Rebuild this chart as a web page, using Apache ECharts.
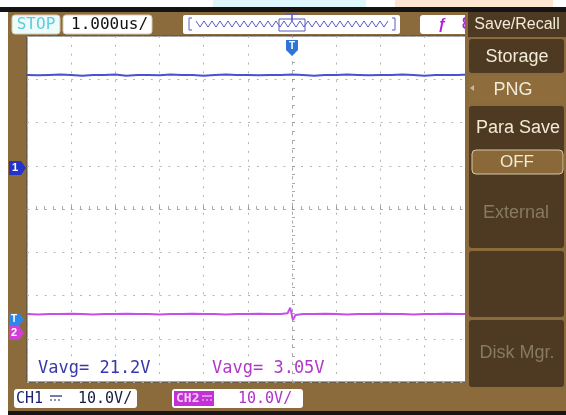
<!DOCTYPE html>
<html><head><meta charset="utf-8">
<script src="https://cdn.jsdelivr.net/npm/echarts@6/dist/echarts.min.js"></script>
<style>html,body{margin:0;padding:0;background:#fff}#c{width:566px;height:415px}</style>
</head><body><div id="c"></div>
<script>
// ---- data ----
const timeUs = [-6,-5.75,-5.5,-5.25,-5,-4.75,-4.5,-4.25,-4,-3.75,-3.5,-3.25,-3,-2.75,-2.5,-2.25,-2,-1.75,-1.5,-1.25,-1,-0.75,-0.5,-0.25,0,0.25,0.5,0.75,1,1.25,1.5,1.75,2,2.25,2.5,2.75,3,3.25,3.5,3.75,4,4.25,4.5,4.75,5,5.25,5.5,5.75,6];
const ch1Volts = [21.5,21.4,21.5,21.6,21.5,21.3,21.5,
                  21.5,21.6,21.3,21.5,21.5,21.4,21.6,
                  21.5,21.5,21.3,21.5,21.6,21.5,21.5,
                  21.4,21.5,21.5,21.6,21.5,21.3,21.5,
                  21.5,21.6,21.5,21.4,21.5,21.5,21.6,
                  21.5,21.3,21.5,21.5,21.5,21.6,21.4,
                  21.5,21.5,21.6,21.5,21.4,21.5,21.5];
const ch2Time = [-6,-5.75,-5.5,-5.25,-5,-4.75,-4.5,-4.25,-4,-3.75,-3.5,-3.25,-3,-2.75,-2.5,-2.25,-2,-1.75,-1.5,-1.25,-1,-0.75,-0.5,-0.25,-0.1,-0.04,0.02,0.08,0.25,0.5,0.75,1,1.25,1.5,1.75,2,2.25,2.5,2.75,3,3.25,3.5,3.75,4,4.25,4.5,4.75,5,5.25,5.5,5.75,6];
const ch2Volts = [4.4,4.3,4.4,4.4,4.5,4.4,4.3,4.4,4.4,4.5,4.4,4.4,4.3,4.4,4.4,4.5,4.4,4.4,4.3,4.4,4.4,4.5,4.4,4.4,
                  4.6,5.9,3.0,4.2,
                  4.4,4.4,4.5,4.4,4.3,4.4,4.4,4.5,4.4,4.4,4.3,4.4,4.4,4.5,4.4,4.4,4.3,4.4,4.4,4.5,4.4,4.4,4.3,4.4];
const voltsPerDiv = 10;
const ch1OffsetDiv = 0.95;
const ch2OffsetDiv = -2.87;
const labels = {
  status: 'STOP', timebase: '1.000us/',
  ch1Avg: 'Vavg= 21.2V', ch2Avg: 'Vavg= 3.05V',
  ch1Scale: '10.0V/', ch2Scale: '10.0V/',
  menu: ['Save/Recall','Storage','PNG','Para Save','OFF','External','Disk Mgr.']
};

// ---- chart ----
const chart = echarts.init(document.getElementById('c'), null, {renderer:'canvas'});
const MONO = '"DejaVu Sans Mono", monospace';
const SANS = '"Liberation Sans", Arial, sans-serif';
const BROWN = '#8B6A3B', DARK = '#4E3A22', CREAM = '#F2EAD8';
const dot = [2, 6.84];

function zig(){
  const pts=[]; let up=true;
  for(let x=196;x<=390;x+=4){pts.push([x, up?21:27]); up=!up;}
  return pts;
}
const g = [];
// edges
g.push({type:'rect',shape:{x:0,y:0,width:566,height:7},style:{fill:'#fff'},z:100});
g.push({type:'rect',shape:{x:213,y:0,width:153,height:7},style:{fill:'#DDF7FC'},z:100});
g.push({type:'rect',shape:{x:395,y:0,width:158,height:7},style:{fill:'#FCE6D2'},z:100});
g.push({type:'rect',shape:{x:0,y:7,width:566,height:5},style:{fill:'#141414'},z:100});
g.push({type:'rect',shape:{x:0,y:12,width:8,height:403},style:{fill:'#fff'},z:100});
g.push({type:'rect',shape:{x:8,y:411,width:558,height:4},style:{fill:'#161616'},z:100});
// top bar
g.push({type:'rect',shape:{x:12,y:15,width:48,height:19,r:3},style:{fill:'#EEFBFB',stroke:'#D8CCB0'},z:100});
g.push({type:'text',x:36,y:25,style:{text:labels.status,font:'16px '+MONO,fill:'#5CCCDC',align:'center',verticalAlign:'middle'},z:101});
g.push({type:'rect',shape:{x:63,y:15,width:89,height:19,r:3},style:{fill:'#fff',stroke:'#D8CCB0'},z:100});
g.push({type:'text',x:71,y:25,style:{text:labels.timebase,font:'16px '+MONO,fill:'#111',verticalAlign:'middle'},z:101});
g.push({type:'rect',shape:{x:183,y:15,width:217,height:19,r:2},style:{fill:'#fff'},z:100});
g.push({type:'polyline',shape:{points:zig()},style:{stroke:'#5A5AC0',lineWidth:1,fill:null},z:101});
g.push({type:'polyline',shape:{points:[[192,18],[189,18],[189,30],[192,30]]},style:{stroke:'#5A5AC0',lineWidth:1,fill:null},z:101});
g.push({type:'polyline',shape:{points:[[392,18],[395,18],[395,30],[392,30]]},style:{stroke:'#5A5AC0',lineWidth:1,fill:null},z:101});
g.push({type:'rect',shape:{x:279,y:19,width:26,height:12},style:{stroke:'#5A5AC0',fill:null,lineWidth:1},z:101});
g.push({type:'polyline',shape:{points:[[286,14],[298,14]]},style:{stroke:'#5A5AC0',lineWidth:1.5},z:101});
g.push({type:'polyline',shape:{points:[[292,14],[292,21]]},style:{stroke:'#5A5AC0',lineWidth:1.5},z:101});
g.push({type:'rect',shape:{x:420,y:15,width:50,height:19,r:3},style:{fill:'#fff'},z:100});
g.push({type:'text',x:442,y:25,style:{text:'ƒ',font:'italic bold 15px '+SANS,fill:'#B020D8',align:'center',verticalAlign:'middle'},z:101});
g.push({type:'text',x:466,y:25,style:{text:'8',font:'bold 15px '+MONO,fill:'#B020D8',align:'center',verticalAlign:'middle'},z:101});
// trigger marker on top
g.push({type:'polygon',shape:{points:[[286,40],[298,40],[298,50],[292,56],[286,50]]},style:{fill:'#2F74D6'},z:101});
g.push({type:'text',x:292,y:46,style:{text:'T',font:'bold 10px '+SANS,fill:'#fff',align:'center',verticalAlign:'middle'},z:102});
// left channel markers
g.push({type:'polygon',shape:{points:[[9,161],[21,161],[26,168],[21,175],[9,175]]},style:{fill:'#2434C8'},z:101});
g.push({type:'text',x:15,y:168,style:{text:'1',font:'bold 11px '+SANS,fill:'#fff',align:'center',verticalAlign:'middle'},z:102});
g.push({type:'polygon',shape:{points:[[9,313],[19,313],[24,319],[19,326],[9,326]]},style:{fill:'#2E86E8'},z:101});
g.push({type:'text',x:14,y:319.5,style:{text:'T',font:'bold 10px '+SANS,fill:'#fff',align:'center',verticalAlign:'middle'},z:102});
g.push({type:'polygon',shape:{points:[[9,326],[19,326],[24,333],[19,340],[9,340]]},style:{fill:'#D040D8'},z:101});
g.push({type:'text',x:14,y:333,style:{text:'2',font:'bold 11px '+SANS,fill:'#fff',align:'center',verticalAlign:'middle'},z:102});
// Vavg
g.push({type:'text',x:38,y:369,style:{text:labels.ch1Avg,font:'17px '+MONO,fill:'#3838A8',verticalAlign:'middle'},z:101});
g.push({type:'text',x:212,y:369,style:{text:labels.ch2Avg,font:'17px '+MONO,fill:'#B038C8',verticalAlign:'middle'},z:101});
// bottom bar
g.push({type:'rect',shape:{x:14,y:389,width:123,height:19,r:3},style:{fill:'#fff'},z:100});
g.push({type:'text',x:16,y:399,style:{text:'CH1',font:'15px '+MONO,fill:'#1C2070',verticalAlign:'middle'},z:101});
g.push({type:'polyline',shape:{points:[[50,396],[62,396]]},style:{stroke:'#1C2070',lineWidth:1.2},z:101});
g.push({type:'polyline',shape:{points:[[50,400],[62,400]]},style:{stroke:'#1C2070',lineWidth:1.2,lineDash:[2,2]},z:101});
g.push({type:'text',x:78,y:399,style:{text:labels.ch1Scale,font:'15px '+MONO,fill:'#1A1A40',verticalAlign:'middle'},z:101});
g.push({type:'rect',shape:{x:172,y:389,width:131,height:19,r:3},style:{fill:'#fff'},z:100});
g.push({type:'rect',shape:{x:174,y:391,width:40,height:15},style:{fill:'#C430D8'},z:101});
g.push({type:'text',x:176,y:399,style:{text:'CH2',font:'bold 13px '+MONO,fill:'#F6D0F6',verticalAlign:'middle'},z:102});
g.push({type:'polyline',shape:{points:[[202,396],[212,396]]},style:{stroke:'#F6D0F6',lineWidth:1.2},z:102});
g.push({type:'polyline',shape:{points:[[202,400],[212,400]]},style:{stroke:'#F6D0F6',lineWidth:1.2,lineDash:[2,2]},z:102});
g.push({type:'text',x:238,y:399,style:{text:labels.ch2Scale,font:'15px '+MONO,fill:'#B030C8',verticalAlign:'middle'},z:101});
// menu
g.push({type:'rect',shape:{x:465,y:12,width:101,height:399},style:{fill:BROWN},z:110});
g.push({type:'rect',shape:{x:468,y:12,width:98,height:25},style:{fill:DARK},z:111});
g.push({type:'text',x:517,y:25,style:{text:labels.menu[0],font:'16px '+SANS,fill:CREAM,align:'center',verticalAlign:'middle'},z:112});
g.push({type:'rect',shape:{x:469,y:39,width:95,height:34,r:3},style:{fill:DARK},z:111});
g.push({type:'text',x:517,y:57,style:{text:labels.menu[1],font:'18px '+SANS,fill:CREAM,align:'center',verticalAlign:'middle'},z:112});
g.push({type:'rect',shape:{x:469,y:76,width:95,height:27},style:{fill:'#8E6C3C'},z:111});
g.push({type:'polygon',shape:{points:[[470,88],[474,85],[474,91]]},style:{fill:'#C8B8A0'},z:112});
g.push({type:'text',x:513,y:90,style:{text:labels.menu[2],font:'18px '+SANS,fill:CREAM,align:'center',verticalAlign:'middle'},z:112});
g.push({type:'rect',shape:{x:469,y:106,width:95,height:142,r:3},style:{fill:DARK},z:111});
g.push({type:'text',x:518,y:128,style:{text:labels.menu[3],font:'18px '+SANS,fill:CREAM,align:'center',verticalAlign:'middle'},z:112});
g.push({type:'rect',shape:{x:472,y:150,width:91,height:24,r:4},style:{fill:'#8A6838',stroke:'#D8C8A8',lineWidth:1},z:112});
g.push({type:'text',x:517,y:162,style:{text:labels.menu[4],font:'17px '+SANS,fill:CREAM,align:'center',verticalAlign:'middle'},z:113});
g.push({type:'text',x:516,y:213,style:{text:labels.menu[5],font:'18px '+SANS,fill:'#877A62',align:'center',verticalAlign:'middle'},z:112});
g.push({type:'rect',shape:{x:469,y:251,width:95,height:66,r:3},style:{fill:DARK},z:111});
g.push({type:'rect',shape:{x:469,y:320,width:95,height:67,r:3},style:{fill:DARK},z:111});
g.push({type:'text',x:517,y:353,style:{text:labels.menu[6],font:'18px '+SANS,fill:'#877A62',align:'center',verticalAlign:'middle'},z:112});

const axisCommon = {
  type:'value', axisLabel:{show:false},
  axisLine:{show:true,onZero:true,lineStyle:{color:'#aaa',type:dot}},
  axisTick:{show:true,inside:true,length:3,lineStyle:{color:'#999'}},
  minorTick:{show:true,splitNumber:5,length:3,lineStyle:{color:'#aaa'}},
  splitLine:{show:true,lineStyle:{color:'#b4b4b4',width:1,type:dot}}
};
chart.setOption({
  backgroundColor: BROWN,
  animation:false,
  grid:{left:27,top:36,width:530,height:346,show:true,backgroundColor:'#fff',borderColor:'#4a4a4a',borderWidth:1},
  xAxis: Object.assign({min:-6,max:6,interval:1}, axisCommon),
  yAxis: Object.assign({min:-4,max:4,interval:1}, axisCommon),
  series:[
    {type:'line',name:'CH1',symbol:'none',z:5,
     data: timeUs.map((t,i)=>[t, ch1OffsetDiv + ch1Volts[i]/voltsPerDiv]),
     lineStyle:{color:'#4A50D0',width:2}},
    {type:'line',name:'CH2',symbol:'none',z:5,
     data: ch2Time.map((t,i)=>[t, ch2OffsetDiv + ch2Volts[i]/voltsPerDiv]),
     lineStyle:{color:'#C84EE8',width:2}}
  ],
  graphic: g
});
</script></body></html>
